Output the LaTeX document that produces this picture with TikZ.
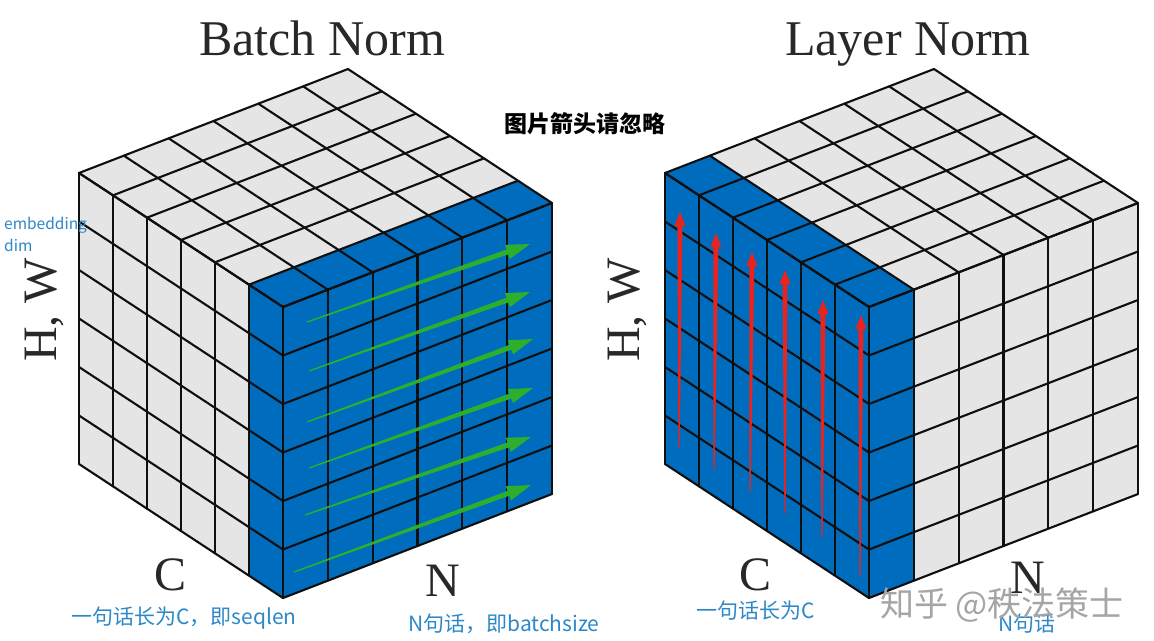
\documentclass[tikz,border=0pt]{standalone}
\usepackage{fontspec}
\setmainfont{Liberation Serif}
\newfontfamily\cjk{Noto Sans CJK SC}
\usetikzlibrary{calc}
\definecolor{cellgray}{RGB}{229,229,229}
\definecolor{cellblue}{RGB}{0,108,189}
\definecolor{gridc}{RGB}{15,15,15}
\definecolor{arrgreen}{RGB}{45,175,45}
\definecolor{arrred}{RGB}{235,35,30}
\definecolor{annot}{RGB}{45,135,200}
\definecolor{labelc}{RGB}{40,40,40}
\definecolor{wmark}{RGB}{165,165,165}
\tikzset{
  gridline/.style={draw=gridc, line width=2.1pt, line cap=round, line join=round},
  title/.style={font=\fontsize{50}{60}\selectfont, text=labelc, inner sep=0pt, anchor=base},
  axislabel/.style={font=\fontsize{48}{56}\selectfont, text=labelc, inner sep=0pt, anchor=base},
  note/.style={font=\cjk\fontsize{21}{24}\selectfont, text=annot, inner sep=0pt, anchor=west},
}
% strip of a cube face: origin, x-vector, y-vector, colour, from, to
\newcommand\facestrip[6]{%
  \begin{scope}[shift={#1}, x={#2}, y={#3}]
    \fill[#4] (#5,0) -- (#6,0) -- (#6,6) -- (#5,6) -- cycle;
  \end{scope}}
% 6x6 grid of a cube face: origin, x-vector, y-vector
\newcommand\facegrid[3]{%
  \begin{scope}[shift={#1}, x={#2}, y={#3}]
    \foreach \k in {0,...,6}{
      \draw[gridline] (\k,0) -- (\k,6);
      \draw[gridline] (0,\k) -- (6,\k);
    }
  \end{scope}}
% tapered arrow: style, tail, tip, tail half width, shaft half width, head half width, head length
\newcommand\taparrow[7]{%
  \coordinate (ta) at #2;
  \coordinate (tb) at #3;
  \coordinate (hb) at ($(tb)!#7!(ta)$);
  \fill[#1] ($(ta)!#4!90:(tb)$) -- ($(hb)!#5!90:(tb)$) -- ($(hb)!#6!90:(tb)$) -- (tb)
    -- ($(hb)!#6!-90:(tb)$) -- ($(hb)!#5!-90:(tb)$) -- ($(ta)!#4!-90:(tb)$) -- cycle;}
\begin{document}
\begin{tikzpicture}[x=1pt, y=-1pt]
\fill[white] (0,0) rectangle (1154,640);
\useasboundingbox (0,0) rectangle (1154,640);

% ---------------- Batch Norm cube ----------------
\facestrip{(79,173)}{(34pt,-22.33pt)}{(0pt,-48.5pt)}{cellgray}{0}{5}
\facestrip{(79,173)}{(34pt,-22.33pt)}{(0pt,-48.5pt)}{cellblue}{5}{6}
\facestrip{(79,173)}{(34pt,-22.33pt)}{(44.83pt,17.33pt)}{cellgray}{0}{5}
\facestrip{(79,173)}{(34pt,-22.33pt)}{(44.83pt,17.33pt)}{cellblue}{5}{6}
\facestrip{(283,307)}{(44.83pt,17.33pt)}{(0pt,-48.5pt)}{cellblue}{0}{6}
\facegrid{(79,173)}{(34pt,-22.33pt)}{(0pt,-48.5pt)}
\facegrid{(79,173)}{(34pt,-22.33pt)}{(44.83pt,17.33pt)}
\facegrid{(283,307)}{(44.83pt,17.33pt)}{(0pt,-48.5pt)}

% ---------------- Layer Norm cube ----------------
\facestrip{(665,173)}{(34pt,-22.33pt)}{(0pt,-48.5pt)}{cellblue}{0}{6}
\facestrip{(665,173)}{(44.83pt,17.33pt)}{(34pt,-22.33pt)}{cellblue}{0}{1}
\facestrip{(665,173)}{(44.83pt,17.33pt)}{(34pt,-22.33pt)}{cellgray}{1}{6}
\facestrip{(869,307)}{(44.83pt,17.33pt)}{(0pt,-48.5pt)}{cellblue}{0}{1}
\facestrip{(869,307)}{(44.83pt,17.33pt)}{(0pt,-48.5pt)}{cellgray}{1}{6}
\facegrid{(665,173)}{(34pt,-22.33pt)}{(0pt,-48.5pt)}
\facegrid{(665,173)}{(44.83pt,17.33pt)}{(34pt,-22.33pt)}
\facegrid{(869,307)}{(44.83pt,17.33pt)}{(0pt,-48.5pt)}

% ---------------- green arrows ----------------
\taparrow{arrgreen}{(307,322)}{(530,244)}{0.6pt}{2.6pt}{7.5pt}{24pt}
\taparrow{arrgreen}{(309,371)}{(530,292)}{0.6pt}{2.6pt}{7.5pt}{24pt}
\taparrow{arrgreen}{(307,422)}{(533,339)}{0.6pt}{2.6pt}{7.5pt}{24pt}
\taparrow{arrgreen}{(309,468)}{(533,388)}{0.6pt}{2.6pt}{7.5pt}{24pt}
\taparrow{arrgreen}{(305,515)}{(531,437)}{0.6pt}{2.6pt}{7.5pt}{24pt}
\taparrow{arrgreen}{(294,572)}{(531,485)}{0.6pt}{2.6pt}{7.5pt}{24pt}

% ---------------- red arrows ----------------
\taparrow{arrred}{(679,447)}{(680,212)}{0.6pt}{2.5pt}{5.5pt}{14pt}
\taparrow{arrred}{(714,470)}{(716,233)}{0.6pt}{2.5pt}{5.5pt}{14pt}
\taparrow{arrred}{(750,492)}{(752,252)}{0.6pt}{2.5pt}{5.5pt}{14pt}
\taparrow{arrred}{(785,513)}{(785,270)}{0.6pt}{2.5pt}{5.5pt}{14pt}
\taparrow{arrred}{(822,537)}{(823,300)}{0.6pt}{2.5pt}{5.5pt}{14pt}
\taparrow{arrred}{(860,575)}{(861,315)}{0.6pt}{2.5pt}{5.5pt}{14pt}

% ---------------- labels ----------------
\node[title] (tbn) at (322,55) {Batch Norm};
\node[title] (tln) at (908,55) {Layer Norm};
\node[axislabel, rotate=90] (hw1) at (56,310) {H, W};
\node[axislabel, rotate=90] (hw2) at (639,310) {H, W};
\node[axislabel] (c1) at (171,590) {C};
\node[axislabel] (n1) at (443,596) {N};
\node[axislabel] (c2) at (755,590) {C};
\node[axislabel] (n2) at (1028,593) {N};

\node[font=\cjk\bfseries\fontsize{23}{28}\selectfont, inner sep=0pt] (warn) at (585,124) {图片箭头请忽略};

\node[note, font=\cjk\fontsize{15.5}{18}\selectfont, anchor=base west] (emb1) at (4,229) {embedding};
\node[note, font=\cjk\fontsize{15.5}{18}\selectfont, anchor=base west] (emb2) at (4,251) {dim};
\node[note] (seq1) at (71,618) {一句话长为C，即seqlen};
\node[note] (bs1) at (408,624) {N句话，即batchsize};
\node[note] (seq2) at (696,611) {一句话长为C};
\node[note] (bs2) at (998,624) {N句话};

\node[font=\cjk\fontsize{34}{40}\selectfont, text=wmark, inner sep=0pt, anchor=west] (wm) at (880,605) {知乎 @秩法策士};
\end{tikzpicture}
\end{document}
